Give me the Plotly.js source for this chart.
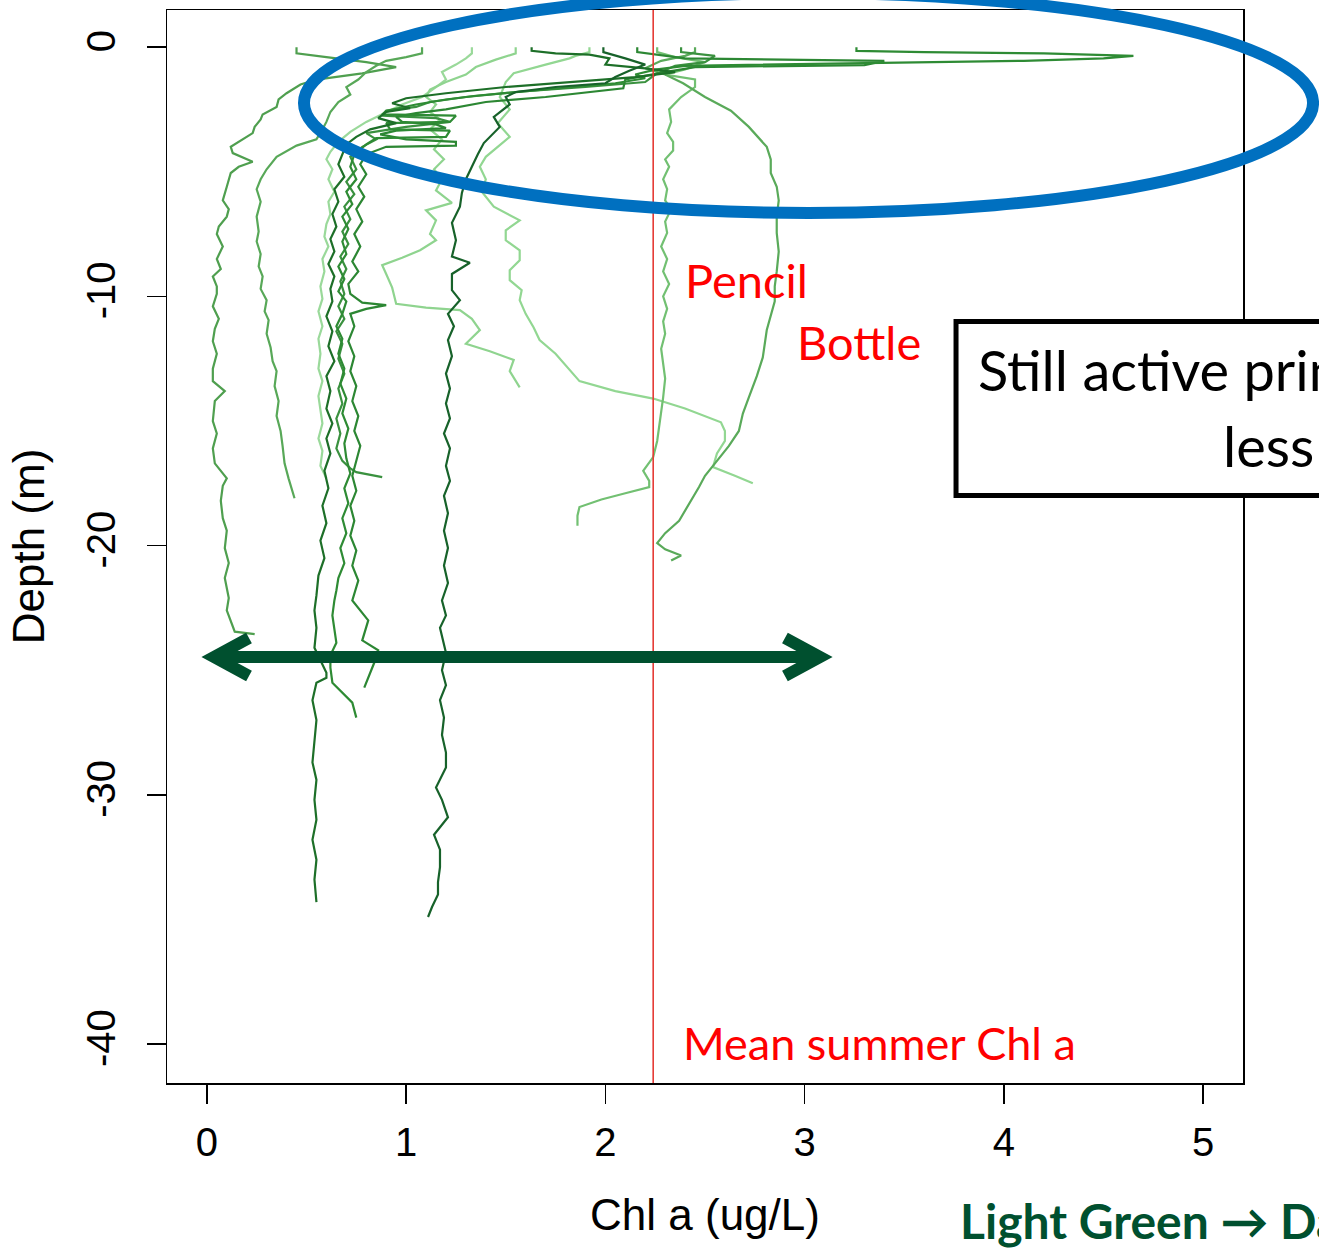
<!DOCTYPE html>
<html>
<head>
<meta charset="utf-8">
<script src="https://cdn.plot.ly/plotly-3.0.1.min.js"></script>
<style>
  html, body { margin: 0; padding: 0; background: #ffffff; }
  #chart { width: 1319px; height: 1249px; }
</style>
</head>
<body>
<div id="chart"></div>
<script>
// ---- Data: Chl a (ug/L) vs depth (m) profiles, each as [chl, depth] pairs ----
const profileA = [[0.45,0],[0.45,-0.25],[0.6,-0.4],[0.8,-0.6],[0.95,-0.8],[0.78,-1.05],[0.55,-1.3],[0.47,-1.5],[0.4,-1.85],[0.36,-2.1],[0.35,-2.4],[0.28,-2.7],[0.27,-2.9],[0.24,-3.2],[0.23,-3.45],[0.18,-3.7],[0.12,-4.0],[0.13,-4.25],[0.23,-4.6],[0.16,-4.8],[0.12,-5.05],[0.1,-5.6],[0.09,-5.9],[0.08,-6.15],[0.11,-6.5],[0.1,-6.8],[0.06,-7.2],[0.05,-7.5],[0.08,-8.0],[0.05,-8.5],[0.07,-8.9],[0.03,-9.2],[0.05,-9.6],[0.05,-9.9],[0.03,-10.4],[0.06,-10.9],[0.04,-11.3],[0.03,-11.8],[0.05,-12.3],[0.03,-12.9],[0.03,-13.4],[0.09,-13.8],[0.04,-14.2],[0.03,-15.0],[0.05,-15.5],[0.03,-16.1],[0.04,-16.7],[0.1,-17.3],[0.08,-17.6],[0.07,-18.2],[0.08,-18.9],[0.1,-19.4],[0.09,-20.1],[0.11,-20.7],[0.09,-21.3],[0.11,-22.1],[0.1,-22.6],[0.12,-23.0],[0.14,-23.45],[0.24,-23.55]];
const profileB = [[1.08,0],[1.08,-0.25],[1.0,-0.4],[0.9,-0.55],[0.85,-0.75],[0.8,-1.0],[0.76,-1.3],[0.7,-1.6],[0.72,-1.9],[0.66,-2.2],[0.62,-2.6],[0.6,-3.0],[0.58,-3.3],[0.55,-3.7],[0.45,-3.95],[0.35,-4.4],[0.3,-4.9],[0.27,-5.3],[0.25,-5.7],[0.27,-6.2],[0.25,-6.8],[0.26,-7.4],[0.25,-7.8],[0.27,-8.3],[0.26,-8.8],[0.28,-9.2],[0.27,-9.7],[0.3,-10.15],[0.29,-10.6],[0.31,-10.95],[0.3,-11.5],[0.32,-12.05],[0.33,-12.6],[0.35,-13.0],[0.34,-13.6],[0.36,-14.2],[0.35,-14.8],[0.37,-15.4],[0.38,-16.0],[0.39,-16.7],[0.41,-17.3],[0.44,-18.1]];
const profileE = [[1.33,0],[1.33,-0.25],[1.3,-0.45],[1.25,-0.7],[1.18,-1.0],[1.2,-1.3],[1.15,-1.6],[1.08,-2.0],[0.98,-2.3],[0.9,-2.6],[0.8,-3.0],[0.72,-3.4],[0.66,-3.8],[0.62,-4.2],[0.6,-4.5],[0.63,-4.9],[0.61,-5.3],[0.64,-5.8],[0.61,-6.2],[0.62,-6.7],[0.6,-7.1],[0.59,-7.6],[0.61,-8.0],[0.58,-8.5],[0.59,-9.0],[0.57,-9.6],[0.58,-10.1],[0.56,-10.6],[0.58,-11.2],[0.56,-11.7],[0.57,-12.3],[0.56,-12.9],[0.58,-13.4],[0.56,-14.0],[0.57,-14.6],[0.58,-15.1],[0.56,-15.7],[0.58,-16.2],[0.57,-16.8],[0.6,-17.3]];
const profileF = [[1.55,0],[1.55,-0.25],[1.45,-0.5],[1.35,-0.8],[1.3,-1.1],[1.2,-1.4],[1.12,-1.7],[1.1,-2.0],[1.15,-2.3],[1.12,-2.6],[1.17,-2.9],[1.12,-3.3],[1.18,-3.7],[1.14,-4.1],[1.19,-4.5],[1.14,-4.9],[1.18,-5.3],[1.15,-5.75],[1.23,-6.25],[1.1,-6.55],[1.15,-6.95],[1.12,-7.5],[1.15,-7.75],[1.07,-8.15],[0.98,-8.45],[0.88,-8.75],[0.9,-9.1],[0.93,-9.65],[0.95,-10.3],[1.1,-10.45],[1.27,-10.55],[1.33,-10.9],[1.37,-11.35],[1.3,-11.9],[1.42,-12.2],[1.54,-12.55],[1.52,-13.0],[1.57,-13.65]];
const profileG = [[1.92,0],[1.92,-0.2],[1.85,-0.35],[1.82,-0.45],[1.7,-0.7],[1.54,-1.05],[1.5,-1.4],[1.47,-2.0],[1.52,-2.5],[1.46,-3.05],[1.52,-3.6],[1.46,-4.0],[1.4,-4.4],[1.37,-4.8],[1.4,-5.3],[1.38,-5.8],[1.44,-6.4],[1.57,-6.95],[1.5,-7.35],[1.5,-7.75],[1.57,-8.15],[1.57,-8.55],[1.52,-8.95],[1.52,-9.35],[1.58,-9.75],[1.57,-10.15],[1.6,-10.7],[1.64,-11.25],[1.67,-11.75],[1.75,-12.3],[1.87,-13.4],[2.05,-13.8],[2.24,-14.1],[2.4,-14.5],[2.58,-15.05],[2.6,-15.4],[2.6,-15.8],[2.56,-16.3],[2.54,-16.85],[2.65,-17.2],[2.74,-17.5]];
const profilePencil = [[2.26,0],[2.26,-0.2],[2.35,-0.4],[2.5,-0.6],[2.4,-0.9],[2.3,-1.1],[2.45,-1.3],[2.45,-1.6],[2.38,-2.0],[2.32,-2.5],[2.33,-3.0],[2.31,-3.45],[2.34,-3.8],[2.34,-4.15],[2.3,-4.5],[2.32,-4.8],[2.29,-5.3],[2.31,-5.7],[2.3,-6.15],[2.33,-6.5],[2.3,-7.0],[2.31,-7.45],[2.28,-8.0],[2.31,-8.5],[2.29,-9.0],[2.32,-9.5],[2.29,-10.0],[2.31,-10.5],[2.29,-11.0],[2.3,-11.5],[2.28,-12.1],[2.29,-12.7],[2.3,-13.3],[2.29,-14.05],[2.28,-14.6],[2.27,-15.2],[2.26,-15.8],[2.24,-16.45],[2.19,-17.0],[2.22,-17.4],[2.22,-17.65],[2.1,-17.9],[1.98,-18.15],[1.87,-18.45],[1.86,-18.8],[1.86,-19.2]];
const profileBottle = [[2.45,0],[2.45,-0.2],[2.4,-0.35],[2.28,-0.55],[2.2,-0.85],[2.3,-1.1],[2.39,-1.45],[2.5,-2.0],[2.63,-2.55],[2.72,-3.2],[2.81,-4.0],[2.83,-4.5],[2.83,-5.05],[2.86,-5.6],[2.87,-6.15],[2.86,-6.8],[2.86,-7.45],[2.87,-8.2],[2.86,-9.0],[2.85,-9.6],[2.85,-10.2],[2.83,-10.8],[2.81,-11.35],[2.79,-12.45],[2.76,-13.2],[2.72,-14.05],[2.69,-14.7],[2.67,-15.4],[2.62,-16.0],[2.55,-16.7],[2.5,-17.2],[2.47,-17.65],[2.42,-18.3],[2.37,-19.0],[2.3,-19.5],[2.26,-19.9],[2.3,-20.15],[2.38,-20.4],[2.33,-20.6]];
const profileSpike = [[3.26,0],[3.26,-0.15],[3.6,-0.2],[4.2,-0.25],[4.65,-0.35],[4.5,-0.45],[4.1,-0.55],[3.5,-0.62],[2.8,-0.68],[2.4,-0.75],[2.25,-0.9],[2.15,-1.1],[2.2,-1.25],[2.05,-1.45],[1.7,-1.7],[1.35,-1.95],[1.2,-2.1],[1.05,-2.3],[0.9,-2.55],[0.88,-2.7],[1.25,-2.75],[1.22,-3.0],[0.9,-3.05],[0.92,-3.3],[1.22,-3.35],[1.2,-3.6],[0.85,-3.65],[0.8,-3.9],[0.74,-4.3],[0.72,-4.8],[0.75,-5.3],[0.7,-5.8],[0.73,-6.3],[0.68,-6.8],[0.71,-7.3],[0.68,-7.8],[0.7,-8.3],[0.66,-8.8],[0.69,-9.3],[0.66,-9.8],[0.7,-10.2],[0.68,-10.7],[0.65,-11.2],[0.68,-11.7],[0.66,-12.3],[0.69,-12.9],[0.67,-13.5],[0.7,-14.1],[0.68,-14.7],[0.71,-15.3],[0.69,-15.9],[0.7,-16.5],[0.72,-17.1],[0.69,-17.7],[0.71,-18.3],[0.68,-18.9],[0.7,-19.5],[0.67,-20.1],[0.69,-20.7],[0.66,-21.3],[0.65,-21.8],[0.64,-22.2],[0.63,-22.8],[0.64,-23.3],[0.65,-23.9],[0.62,-24.4],[0.62,-24.9],[0.63,-25.5],[0.68,-25.9],[0.73,-26.3],[0.75,-26.9]];
const profileLoop = [[2.16,0],[2.16,-0.2],[2.4,-0.45],[3.0,-0.5],[3.4,-0.55],[3.3,-0.72],[2.8,-0.78],[2.45,-0.8],[2.3,-1.0],[2.1,-1.3],[2.09,-1.65],[1.7,-2.0],[1.4,-2.2],[1.2,-2.5],[1.05,-2.65],[0.95,-2.8],[0.98,-3.0],[1.15,-3.1],[1.2,-3.25],[0.95,-3.35],[0.87,-3.5],[1.0,-3.7],[1.25,-3.8],[1.25,-3.95],[0.9,-4.0],[0.8,-4.3],[0.77,-4.7],[0.8,-5.1],[0.76,-5.6],[0.79,-6.0],[0.75,-6.5],[0.78,-7.0],[0.74,-7.5],[0.77,-8.0],[0.73,-8.6],[0.76,-9.0],[0.71,-9.5],[0.72,-9.9],[0.78,-10.25],[0.9,-10.35],[0.8,-10.5],[0.72,-10.7],[0.74,-11.2],[0.71,-11.8],[0.74,-12.4],[0.72,-13.0],[0.75,-13.6],[0.73,-14.2],[0.76,-14.8],[0.74,-15.4],[0.77,-16.0],[0.75,-16.6],[0.73,-17.2],[0.75,-17.8],[0.72,-18.4],[0.74,-19.0],[0.72,-19.6],[0.75,-20.2],[0.73,-20.8],[0.76,-21.4],[0.73,-22.2],[0.81,-23.0],[0.78,-23.8],[0.86,-24.2],[0.84,-24.7],[0.79,-25.7]];
const profileHook = [[2.38,0],[2.38,-0.2],[2.55,-0.35],[2.5,-0.6],[2.35,-0.75],[2.25,-1.1],[2.2,-1.4],[1.9,-1.6],[1.55,-1.8],[1.3,-2.0],[1.12,-2.2],[1.05,-2.4],[0.9,-2.55],[0.88,-2.75],[1.15,-2.85],[1.22,-3.0],[1.0,-3.2],[0.8,-3.45],[0.85,-3.7],[0.78,-4.0],[0.72,-4.4],[0.75,-4.9],[0.7,-5.4],[0.74,-5.9],[0.69,-6.4],[0.72,-6.9],[0.68,-7.4],[0.71,-7.9],[0.67,-8.4],[0.7,-8.9],[0.67,-9.4],[0.69,-9.9],[0.66,-10.4],[0.69,-10.9],[0.65,-11.4],[0.68,-11.9],[0.66,-12.5],[0.69,-13.1],[0.66,-13.7],[0.68,-14.3],[0.65,-14.9],[0.67,-15.5],[0.65,-16.1],[0.68,-16.6],[0.72,-16.9],[0.75,-17.05],[0.88,-17.25]];
const profileDeepA = [[1.63,0],[1.63,-0.15],[1.75,-0.25],[1.92,-0.3],[2.02,-0.45],[2.0,-0.7],[2.2,-0.85],[2.35,-1.0],[2.15,-1.2],[1.8,-1.4],[1.5,-1.6],[1.2,-1.85],[1.0,-2.05],[0.93,-2.25],[1.02,-2.45],[0.9,-2.6],[0.86,-2.85],[0.95,-3.05],[0.82,-3.3],[0.75,-3.6],[0.7,-3.9],[0.68,-4.3],[0.66,-4.7],[0.69,-5.2],[0.64,-5.7],[0.66,-6.2],[0.63,-6.7],[0.65,-7.2],[0.62,-7.7],[0.64,-8.2],[0.61,-8.7],[0.64,-9.2],[0.62,-9.7],[0.63,-10.2],[0.6,-10.8],[0.63,-11.4],[0.61,-12.0],[0.64,-12.6],[0.6,-13.2],[0.62,-13.8],[0.6,-14.5],[0.63,-15.1],[0.6,-15.7],[0.62,-16.3],[0.59,-17.0],[0.61,-17.7],[0.58,-18.4],[0.6,-19.1],[0.57,-19.8],[0.59,-20.5],[0.56,-21.2],[0.55,-22.0],[0.54,-22.6],[0.55,-23.3],[0.54,-24.1],[0.6,-25.1],[0.6,-25.3],[0.55,-25.5],[0.53,-26.2],[0.55,-27.0],[0.54,-27.8],[0.53,-28.7],[0.55,-29.4],[0.54,-30.2],[0.55,-31.0],[0.53,-31.8],[0.55,-32.6],[0.54,-33.4],[0.55,-34.3]];
const profileDeepB = [[1.99,0],[1.99,-0.2],[2.1,-0.45],[2.2,-0.7],[2.12,-0.95],[2.05,-1.2],[2.0,-1.45],[1.75,-1.6],[1.55,-1.8],[1.5,-2.0],[1.52,-2.3],[1.44,-2.8],[1.47,-3.2],[1.39,-3.85],[1.36,-4.3],[1.33,-4.8],[1.3,-5.3],[1.28,-5.85],[1.27,-6.4],[1.23,-7.05],[1.25,-7.75],[1.23,-8.4],[1.32,-8.65],[1.23,-9.1],[1.23,-9.75],[1.27,-10.15],[1.21,-10.7],[1.24,-11.2],[1.21,-11.75],[1.23,-12.4],[1.2,-13.1],[1.22,-13.7],[1.2,-14.3],[1.22,-14.9],[1.19,-15.5],[1.22,-16.1],[1.2,-16.8],[1.22,-17.4],[1.19,-18.0],[1.21,-18.7],[1.19,-19.4],[1.21,-20.1],[1.19,-20.8],[1.21,-21.5],[1.18,-22.2],[1.2,-22.8],[1.17,-23.3],[1.2,-24.3],[1.18,-25.0],[1.2,-25.6],[1.17,-26.2],[1.19,-26.9],[1.18,-27.6],[1.2,-28.3],[1.2,-28.9],[1.15,-29.7],[1.18,-30.2],[1.21,-30.9],[1.14,-31.6],[1.17,-32.2],[1.17,-32.9],[1.16,-33.5],[1.16,-34.0],[1.13,-34.5],[1.11,-34.9]];

// Drawing order (light -> dark) and colours
const profiles = [profileE, profileF, profileG, profilePencil, profileA, profileB, profileBottle, profileHook, profileLoop, profileSpike, profileDeepA, profileDeepB];
const profileColors = ['#9ad99a', '#8fd48f', '#92d792', '#72c072', '#4f9f4f', '#58a858', '#5aaa5a', '#3a913f', '#2c8733', '#2e8b34', '#1d6f28', '#17622a'];

const meanSummerChl = 2.24;
const xTicks = [0, 1, 2, 3, 4, 5];
const yTicks = [0, -10, -20, -30, -40];

const traces = profiles.map((p, i) => ({
  type: 'scatter',
  mode: 'lines',
  x: p.map(d => d[0]),
  y: p.map(d => d[1]),
  line: { color: profileColors[i], width: 2.2 },
  hoverinfo: 'skip',
  showlegend: false
}));

const axisFamily = 'Liberation Sans, Arial, sans-serif';
const calibriLike = 'Lato, "Open Sans", sans-serif';

const layout = {
  width: 1319,
  height: 1249,
  margin: { l: 167, r: 76, t: 10, b: 166 },
  paper_bgcolor: '#ffffff',
  plot_bgcolor: '#ffffff',
  showlegend: false,
  xaxis: {
    range: [-0.2, 5.2],
    tickvals: xTicks,
    ticktext: xTicks.map(String),
    ticks: 'outside', ticklen: 19, tickwidth: 1.4, tickcolor: '#000000',
    ticklabelstandoff: 4,
    showline: true, mirror: true, linecolor: '#000000', linewidth: 1.5,
    showgrid: false, zeroline: false,
    tickfont: { family: axisFamily, size: 40, color: '#000000' },
    title: { text: 'Chl a (ug/L)', font: { family: axisFamily, size: 44, color: '#000000' }, standoff: 36 }
  },
  yaxis: {
    range: [-41.56, 1.49],
    tickvals: yTicks,
    ticktext: yTicks.map(String),
    tickangle: -90,
    ticks: 'outside', ticklen: 19, tickwidth: 1.4, tickcolor: '#000000',
    ticklabelstandoff: 16,
    showline: true, mirror: true, linecolor: '#000000', linewidth: 1.5,
    showgrid: false, zeroline: false,
    tickfont: { family: axisFamily, size: 40, color: '#000000' },
    title: { text: 'Depth (m)', font: { family: axisFamily, size: 44, color: '#000000' }, standoff: 20 }
  },
  shapes: [
    { type: 'line', xref: 'x', yref: 'paper', x0: meanSummerChl, x1: meanSummerChl, y0: 0, y1: 1,
      line: { color: '#e53b36', width: 1.6 } },
    { type: 'circle', xref: 'paper', yref: 'paper', x0: 0.1273, x1: 1.0651, y0: 0.8108, y1: 1.0158,
      line: { color: '#0070c0', width: 12 } },
    { type: 'rect', xref: 'paper', yref: 'paper', x0: 0.7333, x1: 1.12, y0: 0.5475, y1: 0.7097,
      line: { color: '#000000', width: 5 }, fillcolor: '#ffffff' },
    { type: 'path', xref: 'paper', yref: 'paper',
      path: 'M 0.0762,0.4147 L 0.0437,0.397 L 0.0762,0.3793 M 0.0437,0.397 L 0.6069,0.397 M 0.5743,0.4147 L 0.6069,0.397 L 0.5743,0.3793',
      line: { color: '#00502f', width: 12 } }
  ],
  annotations: [
    { text: 'Pencil', xref: 'x', yref: 'y', x: 2.39, y: -9.35, xanchor: 'left', yanchor: 'middle', showarrow: false,
      font: { family: calibriLike, size: 47, color: '#ff0000' } },
    { text: 'Bottle', xref: 'x', yref: 'y', x: 2.95, y: -11.85, xanchor: 'left', yanchor: 'middle', showarrow: false,
      font: { family: calibriLike, size: 47, color: '#ff0000' } },
    { text: 'Mean summer Chl a', xref: 'x', yref: 'y', x: 2.38, y: -39.95, xanchor: 'left', yanchor: 'middle', showarrow: false,
      font: { family: calibriLike, size: 45, color: '#ff0000' } },
    { text: 'Still active primary production', xref: 'paper', yref: 'paper', x: 0.7515, y: 0.6654, xanchor: 'left', yanchor: 'middle', showarrow: false,
      font: { family: calibriLike, size: 56, color: '#000000' } },
    { text: 'less productive', xref: 'paper', yref: 'paper', x: 0.9796, y: 0.5937, xanchor: 'left', yanchor: 'middle', showarrow: false,
      font: { family: calibriLike, size: 56, color: '#000000' } },
    { text: '<b>Light Green \u2192 Dark Green</b>', xref: 'paper', yref: 'paper', x: 0.7355, y: -0.1286, xanchor: 'left', yanchor: 'middle', showarrow: false,
      font: { family: calibriLike, size: 48, color: '#00502f' } }
  ]
};

Plotly.newPlot('chart', traces, layout, { staticPlot: true, displayModeBar: false });
</script>
</body>
</html>
